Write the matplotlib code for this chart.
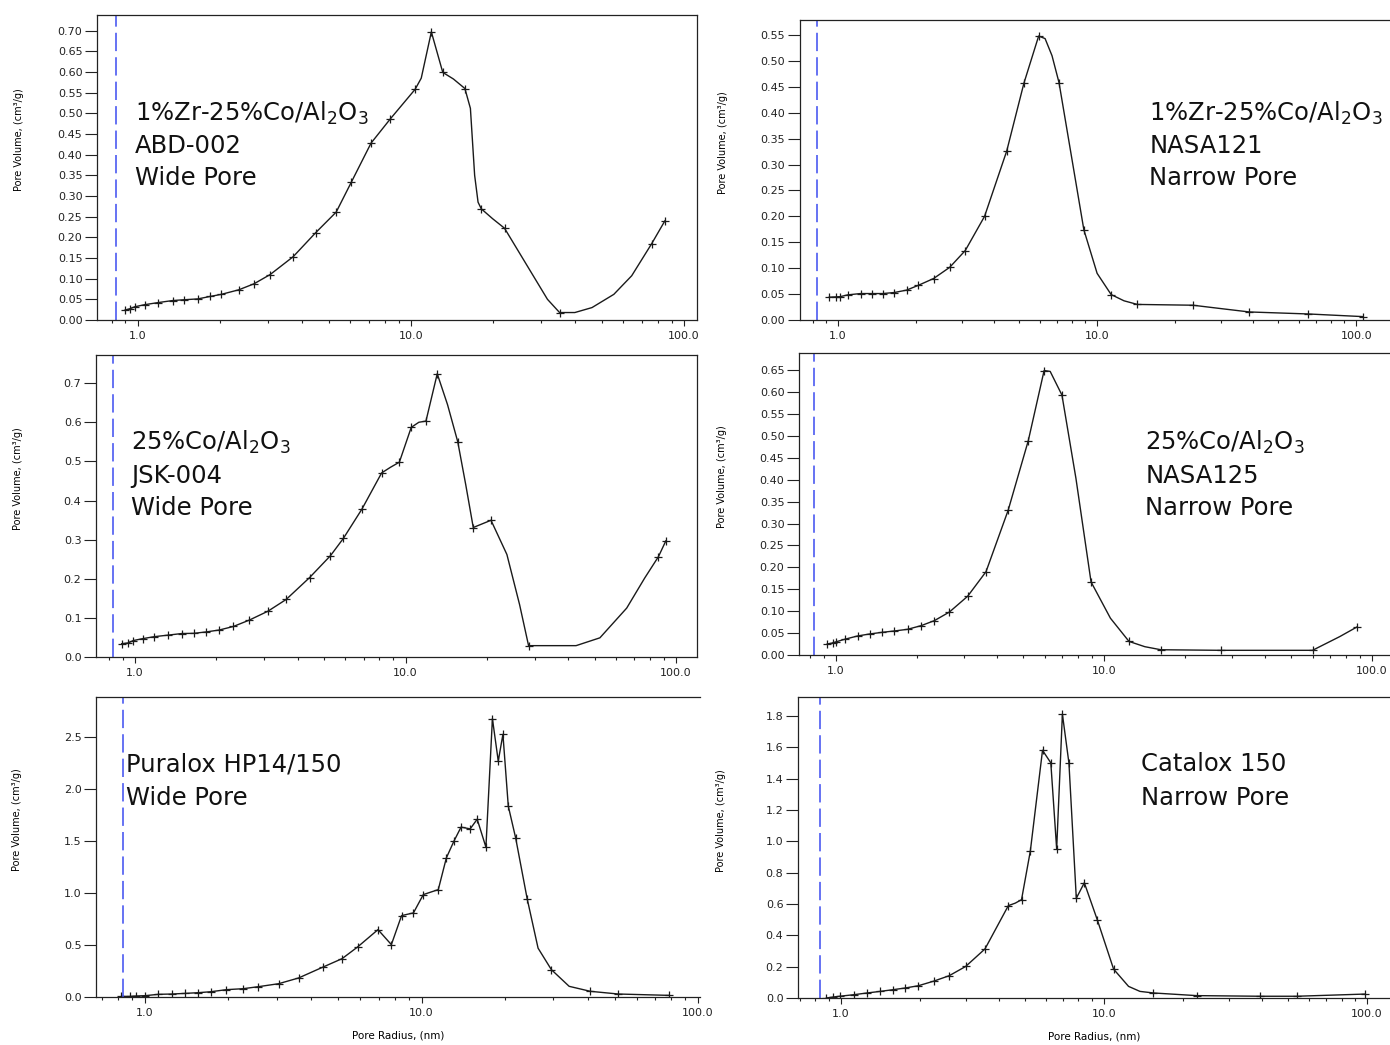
import numpy as np
import matplotlib
matplotlib.use('Agg')
import matplotlib.pyplot as plt
from matplotlib.ticker import FormatStrFormatter, NullFormatter, LogLocator

plt.rcParams['font.family'] = 'DejaVu Sans'
plt.rcParams['mathtext.default'] = 'regular'

# pore radius (nm) / pore volume (cm3/g) at the '+' markers, plus a few
# extra points read off the smooth curve between markers (cr / cv)
p1_r = [0.894, 0.938, 0.974, 1.058, 1.183, 1.339, 1.48, 1.657, 1.84, 2.02, 2.34, 2.66, 3.05, 3.70,
        4.48, 5.32, 6.04, 7.14, 8.41, 10.35, 11.87, 13.07, 15.75, 18.08, 22.0, 35.0, 76.0, 85.1]
p1_v = [0.0235, 0.0276, 0.032, 0.037, 0.042, 0.047, 0.049, 0.051, 0.057, 0.062, 0.073, 0.0875, 0.110, 0.153,
        0.2115, 0.261, 0.333, 0.428, 0.487, 0.558, 0.697, 0.599, 0.560, 0.269, 0.222, 0.018, 0.184, 0.240]
p1_cr = [10.9, 14.3, 16.5, 17.1, 17.6, 19.9, 26.2, 31.6, 39.8, 46.0, 55.3, 64.3]
p1_cv = [0.585, 0.583, 0.512, 0.35, 0.285, 0.245, 0.139, 0.050, 0.018, 0.030, 0.062, 0.107]

p2_r = [0.926, 0.981, 1.02, 1.093, 1.223, 1.35, 1.49, 1.65, 1.84, 2.04, 2.34, 2.70, 3.10, 3.68, 4.48,
        5.22, 5.95, 7.13, 8.89, 11.33, 14.3, 23.4, 38.6, 65.3, 106.0]
p2_v = [0.044, 0.0446, 0.045, 0.0485, 0.051, 0.051, 0.051, 0.053, 0.0576, 0.0667, 0.080, 0.1016, 0.134, 0.200, 0.326,
        0.457, 0.548, 0.458, 0.174, 0.049, 0.030, 0.0285, 0.0155, 0.0116, 0.0065]
p2_cr = [6.3, 6.7, 10.0, 12.7, 30.0]
p2_cv = [0.543, 0.51, 0.09, 0.037, 0.022]

p3_r = [0.893, 0.945, 0.985, 1.07, 1.18, 1.33, 1.49, 1.65, 1.83, 2.05, 2.31, 2.64, 3.10, 3.62, 4.42,
        5.28, 5.89, 6.90, 8.16, 9.49, 10.5, 11.9, 13.1, 15.6, 17.8, 20.7, 28.5, 86.1, 91.7]
p3_v = [0.034, 0.036, 0.042, 0.047, 0.052, 0.056, 0.060, 0.0605, 0.064, 0.069, 0.078, 0.094, 0.117, 0.147, 0.203,
        0.259, 0.303, 0.378, 0.4705, 0.498, 0.587, 0.603, 0.724, 0.550, 0.331, 0.3495, 0.029, 0.2566, 0.297]
p3_cr = [8.8, 11.2, 14.3, 16.7, 23.7, 26.4, 42.7, 52.3, 65.7, 76.6]
p3_cv = [0.485, 0.600, 0.645, 0.44, 0.262, 0.134, 0.029, 0.049, 0.125, 0.202]

p4_r = [0.928, 0.971, 1.0, 1.077, 1.204, 1.336, 1.49, 1.65, 1.85, 2.08, 2.33, 2.65, 3.10, 3.63, 4.39,
        5.22, 5.98, 6.97, 8.95, 12.4, 16.3, 27.3, 60.0, 87.9]
p4_v = [0.0251, 0.0274, 0.030, 0.0358, 0.0434, 0.048, 0.0518, 0.0548, 0.0586, 0.067, 0.0784, 0.098, 0.134, 0.190, 0.330,
        0.489, 0.649, 0.593, 0.1667, 0.031, 0.012, 0.0107, 0.0107, 0.064]
p4_cr = [6.3, 7.86, 10.57, 14.2, 75.8]
p4_cv = [0.647, 0.403, 0.084, 0.019, 0.042]

p5_r = [0.822, 0.879, 0.929, 1.0, 1.117, 1.249, 1.395, 1.56, 1.73, 1.97, 2.26, 2.57, 3.04, 3.59, 4.41,
        5.16, 5.87, 6.96, 7.78, 8.47, 9.35, 10.15, 11.5, 12.3, 13.1, 13.9, 15.0, 15.9, 17.1, 18.05,
        18.95, 19.7, 20.6, 21.9, 24.1, 29.5, 40.8, 51.5, 78.6]
p5_v = [0.006, 0.006, 0.010, 0.013, 0.026, 0.029, 0.035, 0.042, 0.051, 0.071, 0.080, 0.0995, 0.128, 0.183, 0.289,
        0.369, 0.481, 0.648, 0.504, 0.783, 0.809, 0.985, 1.033, 1.338, 1.499, 1.634, 1.617, 1.71, 1.441, 2.677,
        2.269, 2.526, 1.836, 1.531, 0.947, 0.263, 0.055, 0.029, 0.016]
p5_cr = [26.4, 34.2]
p5_cv = [0.47, 0.103]

p6_r = [0.881, 0.933, 0.989, 1.122, 1.259, 1.41, 1.58, 1.745, 1.97, 2.26, 2.58, 2.98, 3.53, 4.33, 4.86,
        5.25, 5.84, 6.28, 6.61, 6.95, 7.36, 7.85, 8.42, 9.44, 10.88, 15.4, 22.5, 39.3, 54.1, 98.5]
p6_v = [0.0, 0.006, 0.011, 0.021, 0.032, 0.042, 0.053, 0.063, 0.078, 0.108, 0.142, 0.201, 0.313, 0.589, 0.627,
        0.938, 1.580, 1.50, 0.951, 1.811, 1.498, 0.636, 0.735, 0.497, 0.184, 0.032, 0.015, 0.011, 0.011, 0.025]
p6_cr = [4.6, 12.4, 13.7]
p6_cv = [0.605, 0.074, 0.042]

p1_text = [r'1%Zr-25%Co/Al$_2$O$_3$', 'ABD-002', 'Wide Pore']
p2_text = [r'1%Zr-25%Co/Al$_2$O$_3$', 'NASA121', 'Narrow Pore']
p3_text = [r'25%Co/Al$_2$O$_3$', 'JSK-004', 'Wide Pore']
p4_text = [r'25%Co/Al$_2$O$_3$', 'NASA125', 'Narrow Pore']
p5_text = ['Puralox HP14/150', 'Wide Pore']
p6_text = ['Catalox 150', 'Narrow Pore']

p1_yticks = np.arange(0, 0.701, 0.05)
p2_yticks = np.arange(0, 0.551, 0.05)
p3_yticks = np.arange(0, 0.701, 0.1)
p4_yticks = np.arange(0, 0.651, 0.05)
p5_yticks = np.arange(0, 2.51, 0.5)
p6_yticks = np.arange(0, 1.81, 0.2)

cutoff_r = 0.83   # blue dashed line

fig = plt.figure(figsize=(13.9, 10.45), dpi=100)


def panel(rect, r, v, cr, cv, xlim, ylim, yticks, yfmt, text, tx, ty, bottom_row=False, right_spine=True):
    ax = fig.add_axes(rect)
    rr = np.concatenate([r, cr])
    vv = np.concatenate([v, cv])
    order = np.argsort(rr)
    ax.plot(rr[order], vv[order], '-', color='#1a1a1a', lw=1.0)
    ax.plot(r, v, '+', color='#1a1a1a', markersize=6, mew=0.9)
    ax.axvline(cutoff_r, color='#3c4cf0', lw=1.1, dashes=(12, 4))
    ax.set_xscale('log')
    ax.set_xlim(*xlim)
    ax.set_ylim(*ylim)
    ax.set_xticks([1, 10, 100], ['1.0', '10.0', '100.0'])
    ax.xaxis.set_minor_locator(LogLocator(base=10, subs=np.arange(2, 10)))
    ax.xaxis.set_minor_formatter(NullFormatter())
    ax.set_yticks(yticks)
    ax.yaxis.set_major_formatter(FormatStrFormatter(yfmt))
    ax.tick_params(axis='y', which='major', length=9, width=0.8, pad=1.5, labelsize=8, colors='#222')
    ax.tick_params(axis='x', which='major', length=4.3, width=0.8, pad=3.5, labelsize=8, colors='#222')
    ax.tick_params(axis='x', which='minor', length=2.2, width=0.8, colors='#222')
    for s in ax.spines.values():
        s.set_linewidth(0.9)
        s.set_color('#222')
    if not right_spine:
        ax.spines['right'].set_visible(False)
    ax.set_ylabel('Pore Volume, (cm³/g)', fontsize=7)
    ax.yaxis.set_label_coords(-0.122, 0.59)
    if bottom_row:
        ax.set_xlabel('Pore Radius, (nm)', fontsize=7.5)
        ax.xaxis.set_label_coords(0.5, -0.112)
    for i, line in enumerate(text):
        ax.text(tx, ty[i], line, transform=ax.transAxes, fontsize=17.5, color='#111', va='baseline', ha='left')
    return ax


panel([0.0698, 0.6938, 0.4317, 0.2919], p1_r, p1_v, p1_cr, p1_cv, (0.708, 111.6), (0, 0.738),
      p1_yticks, '%.2f', p1_text, 0.063, [0.652, 0.548, 0.443])
panel([0.5755, 0.6938, 0.4252, 0.2871], p2_r, p2_v, p2_cr, p2_cv, (0.714, 136.0), (0, 0.579),
      p2_yticks, '%.2f', p2_text, 0.591, [0.663, 0.557, 0.45])
panel([0.0691, 0.3713, 0.4324, 0.2890], p3_r, p3_v, p3_cr, p3_cv, (0.718, 119.6), (0, 0.772),
      p3_yticks, '%.1f', p3_text, 0.058, [0.685, 0.576, 0.470])
panel([0.5748, 0.3732, 0.4259, 0.2890], p4_r, p4_v, p4_cr, p4_cv, (0.728, 117.7), (0, 0.689),
      p4_yticks, '%.2f', p4_text, 0.585, [0.679, 0.570, 0.464])
panel([0.0691, 0.0459, 0.4345, 0.2871], p5_r, p5_v, p5_cr, p5_cv, (0.665, 101.7), (0, 2.885),
      p5_yticks, '%.1f', p5_text, 0.05, [0.753, 0.64], bottom_row=True, right_spine=False)
panel([0.5741, 0.0450, 0.4266, 0.2880], p6_r, p6_v, p6_cr, p6_cv, (0.687, 123.3), (0, 1.92),
      p6_yticks, '%.1f', p6_text, 0.579, [0.754, 0.641], bottom_row=True)

fig.savefig('out.png', dpi=100)
